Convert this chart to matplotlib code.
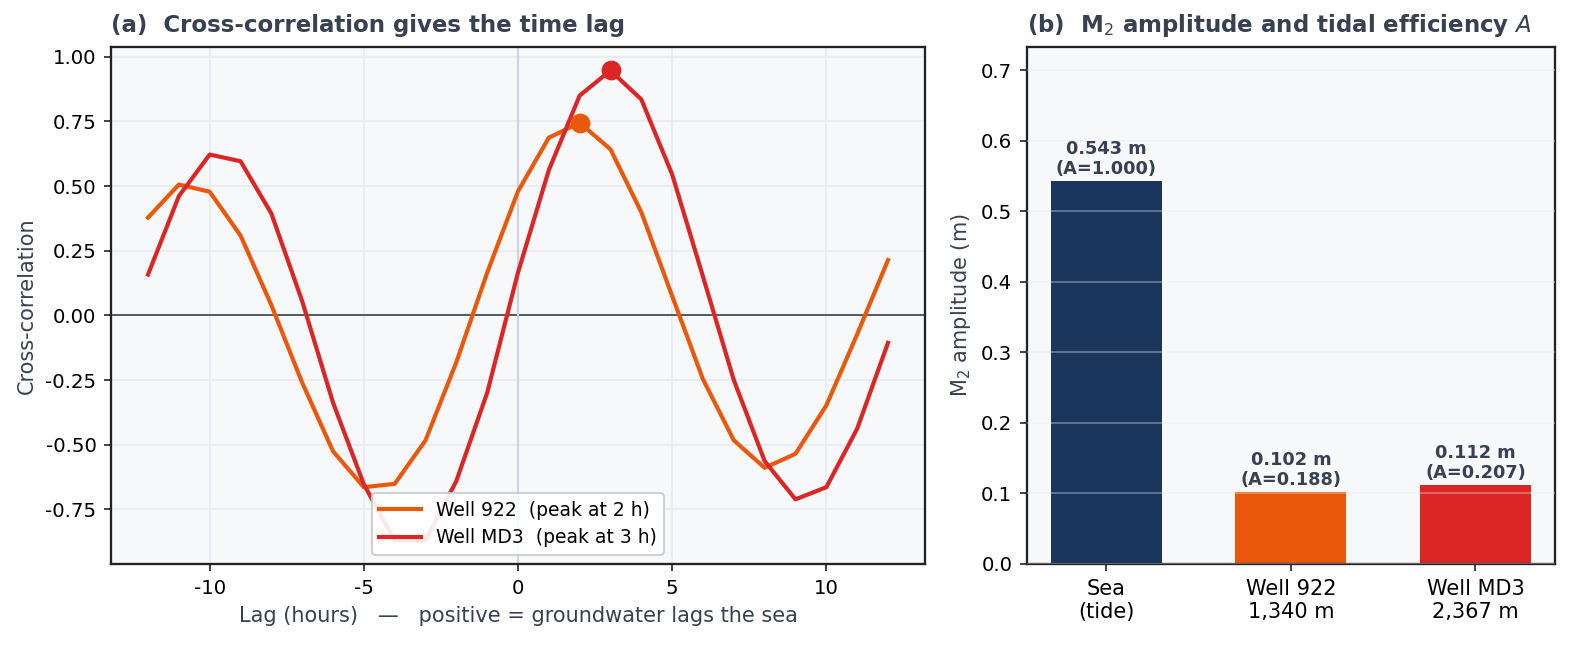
import matplotlib
matplotlib.use("Agg")
import matplotlib.pyplot as plt
import numpy as np

plt.rcParams['font.family'] = ['DejaVu Sans']
plt.rcParams['axes.unicode_minus'] = False

# ---- data ----
lags = list(range(-12, 13))
cc_922 = [0.378, 0.506, 0.478, 0.309, 0.040, -0.260, -0.525, -0.664, -0.651, -0.483,
          -0.181, 0.165, 0.480, 0.687, 0.745, 0.642, 0.399, 0.075, -0.247, -0.483,
          -0.589, -0.535, -0.348, -0.073, 0.214]
cc_md3 = [0.158, 0.461, 0.622, 0.596, 0.394, 0.055, -0.337, -0.653, -0.870, -0.870,
          -0.640, -0.299, 0.166, 0.562, 0.850, 0.947, 0.835, 0.545, 0.150, -0.250,
          -0.563, -0.711, -0.664, -0.438, -0.106]
peak_922 = 2
peak_md3 = 3

bar_labels = ["Sea\n(tide)", "Well 922\n1,340 m", "Well MD3\n2,367 m"]
amplitudes = [0.543, 0.102, 0.112]
efficiency = [1.000, 0.188, 0.207]

C_ORANGE = "#ea580c"
C_RED = "#dc2626"
C_NAVY = "#1b365d"
C_TEXT = "#374151"
C_BG = "#f7f8fa"
C_GRID = "#e8eaf0"

fig = plt.figure(figsize=(10.5, 4.3), dpi=150)
ax1 = fig.add_axes([0.0705, 0.1256, 0.5168, 0.8016])
ax2 = fig.add_axes([0.652, 0.1256, 0.3352, 0.8016])

for ax in (ax1, ax2):
    ax.set_facecolor(C_BG)
    for s in ax.spines.values():
        s.set_color("#222222")
        s.set_linewidth(1.1)
    ax.tick_params(labelsize=9.5, color="#222222")

# ---- panel a ----
ax1.grid(True, color=C_GRID, linewidth=0.8, zorder=0)
ax1.set_axisbelow(True)
ax1.axhline(0, color="#4b5563", linewidth=0.9, zorder=1)
ax1.axvline(0, color="#cbd5e1", linewidth=1.0, zorder=1)
ax1.plot(lags, cc_922, color=C_ORANGE, linewidth=2.0, zorder=3,
         label=f"Well 922  (peak at {peak_922} h)")
ax1.plot(lags, cc_md3, color=C_RED, linewidth=2.0, zorder=3,
         label=f"Well MD3  (peak at {peak_md3} h)")
ax1.plot([peak_922], [cc_922[lags.index(peak_922)]], 'o', color=C_ORANGE, markersize=8.5, zorder=4)
ax1.plot([peak_md3], [cc_md3[lags.index(peak_md3)]], 'o', color=C_RED, markersize=8.5, zorder=4)
ax1.set_xticks([-10, -5, 0, 5, 10])
ax1.set_yticks([-0.75, -0.5, -0.25, 0.0, 0.25, 0.5, 0.75, 1.0])
ax1.set_yticklabels(["-0.75", "-0.50", "-0.25", "0.00", "0.25", "0.50", "0.75", "1.00"])
ax1.set_xlabel("Lag (hours)   —   positive = groundwater lags the sea", color=C_TEXT, fontsize=10, labelpad=4)
ax1.set_ylabel("Cross-correlation", color=C_TEXT, fontsize=10)
ax1.set_title("(a)  Cross-correlation gives the time lag", loc="left", fontweight="bold",
              color=C_TEXT, fontsize=11, pad=7)
leg = ax1.legend(loc="lower center", fontsize=9, framealpha=0.9, edgecolor="#cccccc",
                 handlelength=2.2, borderpad=0.4, labelspacing=0.45)

# ---- panel b ----
x = np.arange(len(bar_labels))
bars = ax2.bar(x, amplitudes, width=0.6, color=[C_NAVY, C_ORANGE, C_RED], zorder=1)
ax2.yaxis.grid(True, color=C_GRID, linewidth=0.8, alpha=0.4, zorder=2)
ax2.set_axisbelow(False)
ax2.set_ylim(0, max(amplitudes) * 1.35)
ax2.set_xticks(x)
ax2.set_xticklabels(bar_labels, fontsize=10)
for xi, a, e in zip(x, amplitudes, efficiency):
    ax2.text(xi, a + 0.004, f"{a:.3f} m\n(A={e:.3f})", ha="center", va="bottom",
             fontsize=8.5, fontweight="bold", color=C_TEXT, zorder=5, linespacing=1.15)
ax2.set_ylabel("M$_2$ amplitude (m)", color=C_TEXT, fontsize=10)
ax2.set_title("(b)  M$_2$ amplitude and tidal efficiency $A$", loc="left", fontweight="bold",
              color=C_TEXT, fontsize=11, pad=7)

fig.savefig("out.png", dpi=150)
